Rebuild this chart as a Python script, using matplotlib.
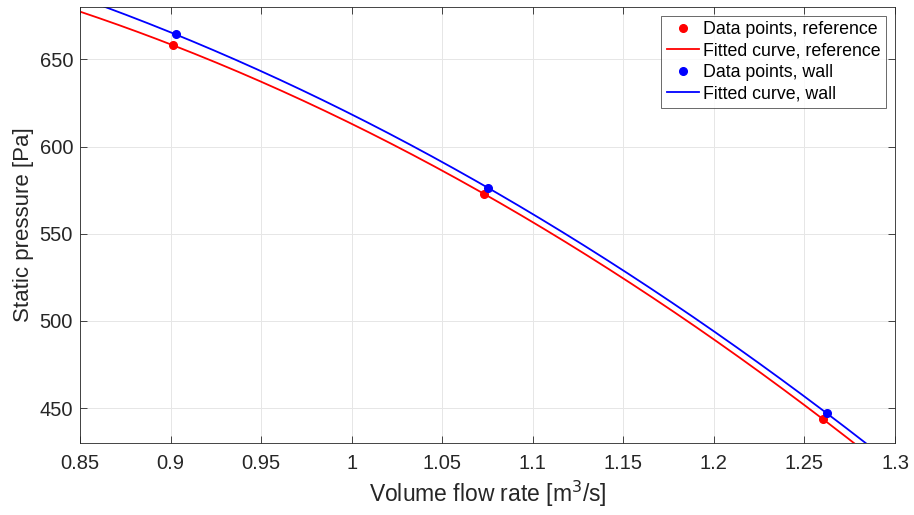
import numpy as np
import matplotlib
matplotlib.use("Agg")
import matplotlib.pyplot as plt

plt.rcParams['font.family'] = ['Liberation Sans', 'DejaVu Sans']

# Data points
x_ref = [0.9015, 1.073, 1.2602]
y_ref = [658.0, 572.9, 443.7]
x_wall = [0.9028, 1.0753, 1.2624]
y_wall = [664.3, 576.3, 447.0]

xlim = (0.85, 1.3)
ylim = (430, 680)
xticks = [0.85, 0.9, 0.95, 1.0, 1.05, 1.1, 1.15, 1.2, 1.25, 1.3]
xticklabels = ['0.85', '0.9', '0.95', '1', '1.05', '1.1', '1.15', '1.2', '1.25', '1.3']
yticks = [450, 500, 550, 600, 650]

fig = plt.figure(figsize=(9.14, 5.15), dpi=100)
ax = fig.add_axes([80/914, 1-443/515, (895-80)/914, (443-7)/515])

# Quadratic fits
xf = np.linspace(xlim[0], xlim[1], 300)
p_ref = np.polyfit(x_ref, y_ref, 2)
p_wall = np.polyfit(x_wall, y_wall, 2)

ax.plot(x_ref, y_ref, 'o', color='#ff0000', ms=5.5, label='Data points, reference', zorder=4)
ax.plot(xf, np.polyval(p_ref, xf), '-', color='#ff0000', lw=1.3, label='Fitted curve, reference')
ax.plot(x_wall, y_wall, 'o', color='#0000ff', ms=5.5, label='Data points, wall', zorder=4)
ax.plot(xf, np.polyval(p_wall, xf), '-', color='#0000ff', lw=1.3, label='Fitted curve, wall')

ax.set_xlim(*xlim)
ax.set_ylim(*ylim)
ax.set_xticks(xticks)
ax.set_xticklabels(xticklabels)
ax.set_yticks(yticks)
ax.tick_params(direction='in', top=True, right=True, labelsize=14.5, colors='#262626',
               length=5, width=0.6, color='#262626')
ax.tick_params(axis='x', pad=8)
ax.tick_params(axis='y', pad=5)
ax.grid(True, color='#e6e6e6', lw=0.7)
ax.set_axisbelow(True)
for s in ax.spines.values():
    s.set_color('#262626')
    s.set_linewidth(0.6)

ax.set_xlabel('Volume flow rate [m$^3$/s]', fontsize=16.5, color='#262626', labelpad=4)
ax.set_ylabel('Static pressure [Pa]', fontsize=16, color='#262626', labelpad=4)

leg = ax.legend(loc='upper right', fontsize=12.8, frameon=True, fancybox=False,
                edgecolor='#262626', handlelength=1.8, handletextpad=0.25,
                borderpad=0.3, labelspacing=0.25, borderaxespad=0.5)
leg.get_frame().set_linewidth(0.6)

fig.savefig('out.png', dpi=100)
